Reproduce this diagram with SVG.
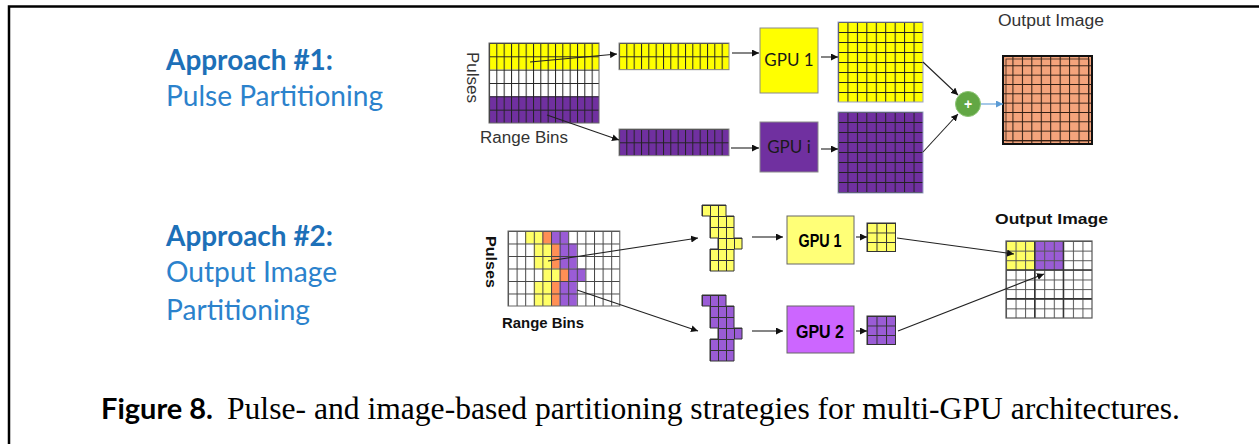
<svg xmlns="http://www.w3.org/2000/svg" width="1259" height="444" viewBox="0 0 1259 444">
  <style>
    .head { font-family: Lato, "Open Sans", sans-serif; font-weight: 700; font-size: 28px; fill: #1d70b8; }
    .sub { font-family: Lato, "Open Sans", sans-serif; font-size: 28px; fill: #2b82cc; }
    .lab { font-family: "Liberation Sans", Arial, sans-serif; font-size: 16px; fill: #333; }
    .labb { font-family: "Liberation Sans", Arial, sans-serif; font-weight: 700; font-size: 15px; fill: #111; }
    .gpu { font-family: Lato, "Open Sans", sans-serif; font-size: 17px; fill: #1a1a1a; text-anchor: middle; }
    .gpub { font-family: "Liberation Sans", Arial, sans-serif; font-weight: 700; font-size: 18px; fill: #000; text-anchor: middle; }
    .line { stroke: #222; stroke-width: 1.1; fill: none; }
    .cap1 { font-family: Lato, "Open Sans", sans-serif; font-weight: 700; font-size: 28px; fill: #000; }
    .cap2 { font-family: "Liberation Serif", "Times New Roman", serif; font-size: 31px; fill: #000; }
  </style>
  <defs>
    <marker id="ah" viewBox="0 0 10 10" refX="10" refY="5" markerWidth="7" markerHeight="7" markerUnits="userSpaceOnUse" orient="auto">
      <path d="M0,0 L10,5 L0,10 z" fill="#111"/>
    </marker>
    <marker id="ahb" viewBox="0 0 10 10" refX="10" refY="5" markerWidth="7" markerHeight="7" markerUnits="userSpaceOnUse" orient="auto">
      <path d="M0,0 L10,5 L0,10 z" fill="#5b9bd5"/>
    </marker>
    <!-- cell grids, one tile per cell size -->
    <pattern id="gStrip" width="7.333" height="13.333" patternUnits="userSpaceOnUse">
      <path d="M0.5,0 V13.333 M0,0.5 H7.333" stroke="#222" stroke-width="1" fill="none"/>
    </pattern>
    <pattern id="gBig" width="9.444" height="10" patternUnits="userSpaceOnUse">
      <path d="M0.5,0 V10 M0,0.5 H9.444" stroke="#222" stroke-width="1" fill="none"/>
    </pattern>
    <pattern id="gOut" width="9.444" height="9.333" patternUnits="userSpaceOnUse">
      <path d="M0.5,0 V9.333 M0,0.5 H9.444" stroke="#2a1a10" stroke-width="1" fill="none"/>
    </pattern>
    <pattern id="gRaw" width="8.6" height="12.5" patternUnits="userSpaceOnUse">
      <path d="M0.5,0 V12.5 M0,0.5 H8.6" stroke="#444" stroke-width="1" fill="none"/>
    </pattern>
    <pattern id="gBlob" width="8" height="11" patternUnits="userSpaceOnUse">
      <path d="M0.5,0 V11 M0,0.5 H8" stroke="#333" stroke-width="1" fill="none"/>
    </pattern>
    <pattern id="gSmall" width="9.5" height="9.5" patternUnits="userSpaceOnUse">
      <path d="M0.5,0 V9.5 M0,0.5 H9.5" stroke="#333" stroke-width="1" fill="none"/>
    </pattern>
    <pattern id="gImg" width="9.556" height="9.625" patternUnits="userSpaceOnUse">
      <path d="M0.5,0 V9.625 M0,0.5 H9.556" stroke="#555" stroke-width="1" fill="none"/>
    </pattern>
    <path id="blob" d="M0,0 H24 V11 H32 V33 H40 V44 H32 V66 H8 V44 H16 V33 H8 V11 H0 Z"/>
  </defs>

  <rect width="1259" height="444" fill="#fff"/>
  <!-- figure frame -->
  <path d="M9,444 V6.5 H1259" fill="none" stroke="#000" stroke-width="2.5"/>

  <!-- headings -->
  <g id="titles">
    <text class="head" x="166" y="70" textLength="167" lengthAdjust="spacingAndGlyphs">Approach #1:</text>
    <text class="sub" x="166" y="106" textLength="217" lengthAdjust="spacingAndGlyphs">Pulse Partitioning</text>
    <text class="head" x="166" y="246" textLength="167" lengthAdjust="spacingAndGlyphs">Approach #2:</text>
    <text class="sub" x="166" y="282" textLength="171" lengthAdjust="spacingAndGlyphs">Output Image</text>
    <text class="sub" x="166" y="320" textLength="144" lengthAdjust="spacingAndGlyphs">Partitioning</text>
  </g>

  <!-- ===== Approach 1: pulse partitioning ===== -->
  <g id="raw-data-1">
    <g transform="translate(489,43)">
      <rect width="110" height="26.67" fill="#ffff00"/>
      <rect y="26.67" width="110" height="26.67" fill="#fff"/>
      <rect y="53.33" width="110" height="26.67" fill="#7030a0"/>
      <rect width="110" height="80" fill="url(#gStrip)" stroke="#666" stroke-width="1"/>
    </g>
    <text class="lab" transform="translate(467,52) rotate(90)" textLength="51" lengthAdjust="spacingAndGlyphs">Pulses</text>
    <text class="lab" x="480" y="143" textLength="88" lengthAdjust="spacingAndGlyphs">Range Bins</text>
  </g>

  <g id="strip-1">
    <g transform="translate(619,43)">
      <rect width="110" height="26.67" fill="#ffff00"/>
      <rect width="110" height="26.67" fill="url(#gStrip)" stroke="#8a8a8a" stroke-width="1"/>
    </g>
  </g>
  <g id="strip-i">
    <g transform="translate(619,129)">
      <rect width="110" height="26.67" fill="#7030a0"/>
      <rect width="110" height="26.67" fill="url(#gStrip)" stroke="#8a8a8a" stroke-width="1"/>
    </g>
  </g>

  <g id="gpu-1-top">
    <rect x="760" y="28" width="58" height="65" fill="#ffff00" stroke="#8a8a8a" stroke-width="1"/>
    <text class="gpu" x="789" y="66">GPU 1</text>
  </g>
  <g id="gpu-i-top">
    <rect x="760" y="122" width="58" height="50" fill="#7030a0" stroke="#8a8a8a" stroke-width="1"/>
    <text class="gpu" x="789" y="153">GPU i</text>
  </g>

  <g id="image-1">
    <g transform="translate(838,22)">
      <rect width="85" height="80" fill="#ffff00"/>
      <rect width="85" height="80" fill="url(#gBig)" stroke="#9aa0c8" stroke-width="1"/>
    </g>
  </g>
  <g id="image-i">
    <g transform="translate(838,112)">
      <rect width="85" height="81" fill="#7030a0"/>
      <rect width="85" height="81" fill="url(#gBig)" stroke="#9aa0c8" stroke-width="1"/>
    </g>
  </g>

  <g id="sum">
    <circle cx="968" cy="104" r="12.5" fill="#62a744" stroke="#8cc474" stroke-width="1"/>
    <text x="968" y="109" font-family="'Liberation Sans', Arial, sans-serif" font-size="14" font-weight="700" fill="#fff" text-anchor="middle">+</text>
  </g>

  <g id="output-1">
    <text class="lab" x="998" y="26" font-size="17" textLength="106" lengthAdjust="spacingAndGlyphs">Output Image</text>
    <g transform="translate(1003,56)">
      <rect width="89" height="88" fill="#f4a47c"/>
      <rect x="1" y="1" width="87" height="86" fill="url(#gOut)"/>
      <rect x="3" y="3" width="83" height="82" fill="none" stroke="#3a2418" stroke-width="0.8"/>
      <rect width="89" height="88" fill="none" stroke="#111" stroke-width="2"/>
    </g>
  </g>

  <!-- ===== Approach 2: output image partitioning ===== -->
  <g id="raw-data-2">
    <g transform="translate(508,231)">
      <rect width="111.8" height="75" fill="#fff"/>
      <g fill="#ffff66">
        <rect x="17.2" y="0" width="17.2" height="12.5"/>
        <rect x="25.8" y="12.5" width="17.2" height="25"/>
        <rect x="34.4" y="37.5" width="17.2" height="12.5"/>
        <rect x="25.8" y="50" width="17.2" height="25"/>
      </g>
      <g fill="#ff8f55">
        <rect x="34.4" y="0" width="8.6" height="12.5"/>
        <rect x="43" y="12.5" width="8.6" height="25"/>
        <rect x="51.6" y="37.5" width="8.6" height="12.5"/>
        <rect x="43" y="50" width="8.6" height="25"/>
      </g>
      <g fill="#9a5cd6">
        <rect x="43" y="0" width="17.2" height="12.5"/>
        <rect x="51.6" y="12.5" width="17.2" height="25"/>
        <rect x="60.2" y="37.5" width="17.2" height="12.5"/>
        <rect x="51.6" y="50" width="17.2" height="25"/>
      </g>
      <rect width="111.8" height="75" fill="url(#gRaw)" stroke="#666" stroke-width="1"/>
    </g>
    <text class="labb" transform="translate(486,236) rotate(90)" font-size="16" textLength="52" lengthAdjust="spacingAndGlyphs">Pulses</text>
    <text class="labb" x="502" y="328" textLength="82" lengthAdjust="spacingAndGlyphs">Range Bins</text>
  </g>

  <g id="tile-1">
    <g transform="translate(702,205)">
      <use href="#blob" fill="#ffff66"/>
      <use href="#blob" fill="url(#gBlob)" stroke="#333" stroke-width="1"/>
    </g>
  </g>
  <g id="tile-2">
    <g transform="translate(702,295)">
      <use href="#blob" fill="#9a5cd6"/>
      <use href="#blob" fill="url(#gBlob)" stroke="#333" stroke-width="1"/>
    </g>
  </g>

  <g id="gpu-1-bottom">
    <rect x="787" y="216" width="67" height="48" fill="#ffff77" stroke="#666" stroke-width="1"/>
    <text class="gpub" x="820" y="247" textLength="43" lengthAdjust="spacingAndGlyphs">GPU 1</text>
  </g>
  <g id="gpu-2-bottom">
    <rect x="787" y="306" width="67" height="47" fill="#cc66ff" stroke="#666" stroke-width="1"/>
    <text class="gpub" x="820" y="338" font-size="20" textLength="48" lengthAdjust="spacingAndGlyphs">GPU 2</text>
  </g>

  <g id="result-1">
    <g transform="translate(867,223)">
      <rect width="28.5" height="28.5" fill="#ffff66"/>
      <rect width="28.5" height="28.5" fill="url(#gSmall)" stroke="#333" stroke-width="1"/>
    </g>
  </g>
  <g id="result-2">
    <g transform="translate(867,316)">
      <rect width="28.5" height="28.5" fill="#9a5cd6"/>
      <rect width="28.5" height="28.5" fill="url(#gSmall)" stroke="#333" stroke-width="1"/>
    </g>
  </g>

  <g id="output-2">
    <text class="labb" x="995" y="224" font-size="18" textLength="113" lengthAdjust="spacingAndGlyphs">Output Image</text>
    <g transform="translate(1006,241)">
      <rect width="86" height="77" fill="#fff"/>
      <rect width="28.67" height="28.875" fill="#ffff66"/>
      <rect x="28.67" width="28.67" height="28.875" fill="#9a5cd6"/>
      <rect width="86" height="77" fill="url(#gImg)"/>
      <path d="M28.67,0 V77 M57.33,0 V77 M0,28.875 H86 M0,57.75 H86" stroke="#333" stroke-width="1.3" fill="none"/>
      <rect width="86" height="77" fill="none" stroke="#555" stroke-width="1.2"/>
    </g>
  </g>

  <!-- connectors -->
  <g id="connectors">
    <line class="line" x1="530" y1="62" x2="617" y2="54" marker-end="url(#ah)"/>
    <line class="line" x1="547" y1="115" x2="619" y2="140" marker-end="url(#ah)"/>
    <line class="line" x1="732" y1="53" x2="759" y2="53" marker-end="url(#ah)"/>
    <line class="line" x1="731" y1="148" x2="759" y2="148" marker-end="url(#ah)"/>
    <line class="line" x1="821" y1="57" x2="838" y2="57" marker-end="url(#ah)"/>
    <line class="line" x1="821" y1="149" x2="838" y2="149" marker-end="url(#ah)"/>
    <line class="line" x1="923" y1="62" x2="958" y2="95" marker-end="url(#ah)" stroke="#444"/>
    <line class="line" x1="923" y1="152" x2="958" y2="114" marker-end="url(#ah)" stroke="#444"/>
    <line x1="981" y1="104" x2="1003" y2="104" stroke="#5b9bd5" stroke-width="1.1" marker-end="url(#ahb)"/>

    <line class="line" x1="548" y1="261" x2="698" y2="238" marker-end="url(#ah)"/>
    <line class="line" x1="577" y1="290" x2="698" y2="331" marker-end="url(#ah)"/>
    <line class="line" x1="752" y1="237" x2="783" y2="237" marker-end="url(#ah)"/>
    <line class="line" x1="752" y1="331" x2="783" y2="331" marker-end="url(#ah)"/>
    <line class="line" x1="856" y1="237" x2="867" y2="237" marker-end="url(#ah)"/>
    <line class="line" x1="856" y1="331" x2="867" y2="331" marker-end="url(#ah)"/>
    <line class="line" x1="897" y1="238" x2="1014" y2="254" marker-end="url(#ah)"/>
    <line class="line" x1="898" y1="331" x2="1044" y2="274" marker-end="url(#ah)"/>
  </g>

  <!-- caption -->
  <g id="caption">
    <text class="cap1" x="101" y="419" textLength="112" lengthAdjust="spacingAndGlyphs">Figure 8.</text>
    <text class="cap2" x="227" y="419" textLength="953" lengthAdjust="spacingAndGlyphs">Pulse- and image-based partitioning strategies for multi-GPU architectures.</text>
  </g>
</svg>
